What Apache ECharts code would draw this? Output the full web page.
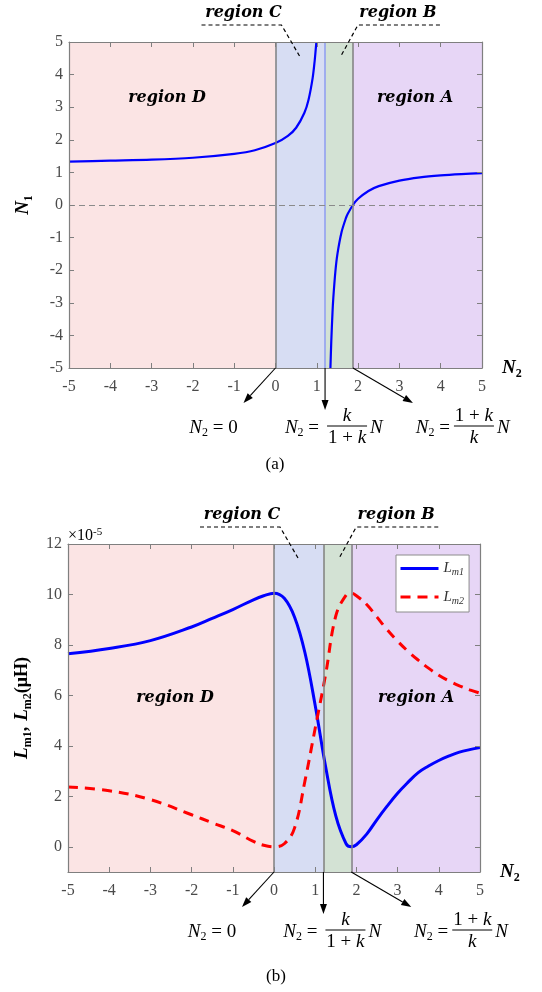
<!DOCTYPE html>
<html>
<head>
<meta charset="utf-8">
<script src="https://cdn.jsdelivr.net/npm/echarts@6/dist/echarts.min.js"></script>
<style>
  html, body { margin: 0; padding: 0; background: #fff; }
  #chart { width: 542px; height: 992px; }
</style>
</head>
<body>
<div id="chart"></div>
<script>
// region borders on the N2 axis: N2 = 0, k/(1+k)N, (1+k)N/k  (k = 4, N = 1.5)
const boundaries = [0, 1.2, 1.875]

// (a) N1 against N2, one branch each side of the asymptote
const n2Left = [-5, -4, -3, -2, -1, -0.5, 0, 0.3, 0.5, 0.7, 0.8, 0.9, 0.95, 0.97, 0.99]
const n1Left = [1.33, 1.36, 1.39, 1.45, 1.57, 1.68, 1.9, 2.12, 2.37, 2.83, 3.23, 3.9, 4.44, 4.72, 5.0]
const n2Right = [1.33, 1.35, 1.38, 1.4, 1.45, 1.5, 1.6, 1.7, 1.75, 1.875, 2, 2.25, 2.5, 3, 3.5, 4, 4.5, 5]
const n1Right = [-5, -4.2, -3.3, -2.85, -2.04, -1.5, -0.83, -0.42, -0.27, 0, 0.19, 0.43, 0.58, 0.75, 0.85, 0.91, 0.95, 0.98]

// (b) Lm1 / Lm2 in units of 1e-5
const n2B = [-5, -4, -3, -2, -1.5, -1, -0.5, -0.25, 0, 0.25, 0.5, 0.75, 1.0, 1.25, 1.5, 1.75, 1.875, 2.0, 2.25, 2.5, 2.75, 3.0, 3.25, 3.5, 3.75, 4, 4.25, 4.5, 4.75, 5]
const lm1 = [7.65, 7.86, 8.17, 8.71, 9.05, 9.4, 9.79, 9.95, 10.05, 9.85, 9.1, 7.7, 5.6, 3.2, 1.22, 0.12, 0, 0.08, 0.5, 1.08, 1.62, 2.12, 2.55, 2.94, 3.2, 3.42, 3.6, 3.75, 3.85, 3.93]
const lm2 = [2.37, 2.22, 1.87, 1.27, 0.95, 0.64, 0.21, 0.06, 0, 0.12, 0.75, 2.6, 4.7, 6.8, 9.15, 9.97, 10.05, 9.95, 9.6, 9.1, 8.6, 8.15, 7.75, 7.4, 7.08, 6.8, 6.57, 6.38, 6.22, 6.09]
const yTicksB = [0, 2, 4, 6, 8, 10, 12]

const regionColors = ['#fbe4e4', '#d7ddf3', '#d3e2d4', '#e7d6f6']
const axisColor = '#7f7f7f'
const labelColor = '#4a4a4a'
const serif = '"Liberation Serif", "Times New Roman", serif'
const dejavu = '"DejaVu Serif", serif'

const chart = echarts.init(document.getElementById('chart'))

function pairs(xs, ys) {
  return xs.map((x, i) => [x, ys[i]])
}

function regionAreas() {
  const edges = [-5].concat(boundaries, [5])
  const areas = []
  for (let i = 0; i < 4; i++) {
    areas.push([{ xAxis: edges[i], itemStyle: { color: regionColors[i] } }, { xAxis: edges[i + 1] }])
  }
  return areas
}

const nameRich = {
  n: { fontFamily: serif, fontStyle: 'italic', fontWeight: 'bold', fontSize: 19, lineHeight: 24, color: '#000' },
  s: { fontFamily: serif, fontWeight: 'bold', fontSize: 12, lineHeight: 12, verticalAlign: 'bottom', color: '#000' },
  c: { fontFamily: serif, fontWeight: 'bold', fontSize: 18, lineHeight: 24, color: '#000', padding: [0, 6, 0, 0] },
  u: { fontFamily: serif, fontWeight: 'bold', fontSize: 18, lineHeight: 24, color: '#000' }
}

function xAxisFor(grid, top) {
  return {
    type: 'value', gridIndex: grid, min: -5, max: 5, interval: 1,
    position: top ? 'top' : 'bottom', z: 10,
    name: top ? '' : '{n|N}{s|2}',
    nameLocation: 'end', nameGap: 20,
    nameTextStyle: { rich: nameRich, verticalAlign: 'middle' },
    axisLine: { show: true, onZero: false, lineStyle: { color: axisColor, width: 1.2 } },
    axisTick: { show: true, inside: true, length: 5, lineStyle: { color: axisColor } },
    axisLabel: { show: !top, margin: 11, color: labelColor, fontFamily: serif, fontSize: 16 },
    splitLine: { show: false }
  }
}

function yAxisFor(grid, right) {
  const base = {
    type: 'value', gridIndex: grid, position: right ? 'right' : 'left', z: 10,
    axisLine: { show: true, onZero: false, lineStyle: { color: axisColor, width: 1.2 } },
    axisTick: { show: true, inside: true, length: 5, lineStyle: { color: axisColor } },
    axisLabel: { show: !right, margin: 6, color: labelColor, fontFamily: serif, fontSize: 16 },
    splitLine: { show: false },
    nameLocation: 'middle', nameRotate: 90,
    nameTextStyle: { rich: nameRich }
  }
  if (grid === 0) {
    base.min = -5
    base.max = 5
    base.interval = 1
    if (!right) {
      base.name = '{n|N}{s|1}'
      base.nameGap = 34
    }
  } else {
    base.min = -1
    base.max = 12
    base.axisLabel.customValues = yTicksB
    base.axisTick.customValues = yTicksB
    if (!right) {
      base.name = '{n|L}{s|m1}{c|,}{n|L}{s|m2}{u|(μH)}'
      base.nameGap = 34
    }
  }
  return base
}

function backgroundSeries(grid, midColor) {
  return {
    type: 'line', xAxisIndex: grid, yAxisIndex: grid, data: [], z: 1, silent: true,
    markArea: { silent: true, data: regionAreas() },
    markLine: {
      silent: true, symbol: ['none', 'none'], label: { show: false },
      lineStyle: { color: axisColor, width: 1.5, type: 'solid' },
      emphasis: { disabled: true },
      data: [
        { xAxis: boundaries[0] },
        { xAxis: boundaries[1], lineStyle: { color: midColor, width: 1.5, type: 'solid' } },
        { xAxis: boundaries[2] }
      ].concat(grid === 0 ? [{ yAxis: 0, lineStyle: { color: '#8a8a8a', width: 1.2, type: [6, 4] } }] : [])
    }
  }
}

const option = {
  animation: false,
  backgroundColor: '#fff',
  grid: [
    { left: 69, top: 42, width: 413, height: 326, outerBoundsMode: 'none' },
    { left: 68, top: 544, width: 412, height: 328, outerBoundsMode: 'none' }
  ],
  xAxis: [xAxisFor(0, false), xAxisFor(1, false), xAxisFor(0, true), xAxisFor(1, true)],
  yAxis: [yAxisFor(0, false), yAxisFor(1, false), yAxisFor(0, true), yAxisFor(1, true)],
  legend: {
    data: ['Lm1', 'Lm2'],
    orient: 'vertical', left: 396, top: 555,
    itemWidth: 38, itemHeight: 14, itemGap: 12,
    padding: [6, 5, 6, 3],
    backgroundColor: '#fff', borderColor: '#8c8c8c', borderWidth: 1, borderRadius: 0,
    lineStyle: { width: 3 },
    itemStyle: { opacity: 0 },
    formatter: name => name === 'Lm1' ? '{l|L}{s|m1}' : '{l|L}{s|m2}',
    textStyle: {
      rich: {
        l: { fontFamily: serif, fontStyle: 'italic', fontSize: 15, lineHeight: 18, color: '#333' },
        s: { fontFamily: serif, fontStyle: 'italic', fontSize: 10, lineHeight: 10, verticalAlign: 'bottom', color: '#333' }
      }
    }
  },
  series: [
    backgroundSeries(0, '#8c9bf0'),
    backgroundSeries(1, axisColor),
    {
      name: 'N1 left', type: 'line', xAxisIndex: 0, yAxisIndex: 0, z: 3,
      data: pairs(n2Left, n1Left), showSymbol: false, smooth: 0.3,
      lineStyle: { color: '#0000ff', width: 2.2 }
    },
    {
      name: 'N1 right', type: 'line', xAxisIndex: 0, yAxisIndex: 0, z: 3,
      data: pairs(n2Right, n1Right), showSymbol: false, smooth: 0.3,
      lineStyle: { color: '#0000ff', width: 2.2 }
    },
    {
      name: 'Lm1', type: 'line', xAxisIndex: 1, yAxisIndex: 1, z: 3,
      data: pairs(n2B, lm1), showSymbol: false, symbol: 'none', smooth: 0.4,
      color: '#0000ff', lineStyle: { color: '#0000ff', width: 3 }
    },
    {
      name: 'Lm2', type: 'line', xAxisIndex: 1, yAxisIndex: 1, z: 4,
      data: pairs(n2B, lm2), showSymbol: false, symbol: 'none', smooth: 0.4,
      color: '#ff0000', lineStyle: { color: '#ff0000', width: 3, type: [10, 7] }
    }
  ]
}

chart.setOption(option)

// ---- annotations (arrows, formulas, region captions) ----
const mathRich = {
  n: { fontFamily: serif, fontStyle: 'italic', fontSize: 19, lineHeight: 22, color: '#000' },
  s: { fontFamily: serif, fontSize: 12, lineHeight: 12, verticalAlign: 'bottom', color: '#000' },
  t: { fontFamily: serif, fontSize: 19, lineHeight: 22, color: '#000' },
  k: { fontFamily: serif, fontStyle: 'italic', fontSize: 19, lineHeight: 22, color: '#000' }
}
const regionFont = { fontFamily: dejavu, fontStyle: 'italic', fontWeight: 'bold', fontSize: 16, fill: '#000' }

function arrow(x1, y1, x2, y2) {
  const a = Math.atan2(y2 - y1, x2 - x1)
  const len = 10, half = 3.5
  const bx = x2 - len * Math.cos(a), by = y2 - len * Math.sin(a)
  return [
    { type: 'line', shape: { x1, y1, x2: bx, y2: by }, style: { stroke: '#000', lineWidth: 1.1 } },
    {
      type: 'polygon',
      shape: { points: [[x2, y2], [bx - half * Math.sin(a), by + half * Math.cos(a)], [bx + half * Math.sin(a), by - half * Math.cos(a)]] },
      style: { fill: '#000' }
    }
  ]
}

function text(x, y, str, align, extra) {
  return {
    type: 'text', x, y,
    style: Object.assign({ text: str, align: align || 'center', verticalAlign: 'middle', rich: mathRich }, extra || {})
  }
}

function callout(tx, ty, pts) {
  return [
    { type: 'text', x: tx, y: ty, style: Object.assign({ text: pts.label, align: 'center', verticalAlign: 'middle' }, regionFont) },
    { type: 'polyline', shape: { points: pts.line }, style: { stroke: '#000', lineWidth: 1.2, lineDash: [4, 3], fill: null } }
  ]
}

function annotate(grid) {
  const yMin = grid === 0 ? -5 : -1
  const yMax = grid === 0 ? 5 : 12
  const pb = chart.convertToPixel({ gridIndex: grid }, [0, yMin])[1]
  const pt = chart.convertToPixel({ gridIndex: grid }, [0, yMax])[1]
  const px = boundaries.map(b => chart.convertToPixel({ gridIndex: grid }, [b, yMin])[0])
  let els = []
  els = els.concat(arrow(px[0], pb, px[0] - 32, pb + 35))
  els = els.concat(arrow(px[1], pb, px[1], pb + 42))
  els = els.concat(arrow(px[2], pb, px[2] + 60, pb + 35))
  // N2 = 0
  els.push(text(px[0] - 62, pb + 60, '{n|N}{s|2}{t| = 0}'))
  // N2 = k/(1+k) N
  els.push(text(px[1] - 6, pb + 60, '{n|N}{s|2}{t| =}', 'right'))
  els.push(text(px[1] + 22, pb + 48, '{k|k}'))
  els.push({ type: 'line', shape: { x1: px[1] + 2, y1: pb + 58, x2: px[1] + 42, y2: pb + 58 }, style: { stroke: '#000', lineWidth: 1 } })
  els.push(text(px[1] + 22, pb + 70, '{t|1 + }{k|k}'))
  els.push(text(px[1] + 45, pb + 60, '{n|N}', 'left'))
  // N2 = (1+k)/k N
  els.push(text(px[2] + 97, pb + 60, '{n|N}{s|2}{t| =}', 'right'))
  els.push(text(px[2] + 121, pb + 48, '{t|1 + }{k|k}'))
  els.push({ type: 'line', shape: { x1: px[2] + 101, y1: pb + 58, x2: px[2] + 141, y2: pb + 58 }, style: { stroke: '#000', lineWidth: 1 } })
  els.push(text(px[2] + 121, pb + 70, '{k|k}'))
  els.push(text(px[2] + 144, pb + 60, '{n|N}', 'left'))
  // region C / region B callouts above the plot
  els = els.concat(callout(px[0] - 32, pt - 29, { label: 'region C', line: [[px[0] - 74, pt - 17], [px[0] + 6, pt - 17], [px[0] + 24, pt + 14]] }))
  els = els.concat(callout(px[2] + 45, pt - 29, { label: 'region B', line: [[px[2] + 87, pt - 17], [px[2] + 5, pt - 17], [px[2] - 12, pt + 14]] }))
  return els
}

let graphics = annotate(0).concat(annotate(1))
graphics.push({ type: 'text', x: 167, y: 98, style: Object.assign({ text: 'region D', align: 'center', verticalAlign: 'middle' }, regionFont) })
graphics.push({ type: 'text', x: 415, y: 98, style: Object.assign({ text: 'region A', align: 'center', verticalAlign: 'middle' }, regionFont) })
graphics.push({ type: 'text', x: 175, y: 698, style: Object.assign({ text: 'region D', align: 'center', verticalAlign: 'middle' }, regionFont) })
graphics.push({ type: 'text', x: 416, y: 698, style: Object.assign({ text: 'region A', align: 'center', verticalAlign: 'middle' }, regionFont) })
graphics.push({
  type: 'text', x: 68, y: 536,
  style: {
    text: '{a|×10}{b|-5}', align: 'left', verticalAlign: 'middle',
    rich: {
      a: { fontFamily: serif, fontSize: 16, lineHeight: 18, color: labelColor },
      b: { fontFamily: serif, fontSize: 11, lineHeight: 11, verticalAlign: 'top', color: labelColor }
    }
  }
})
graphics.push({ type: 'text', x: 275, y: 465, style: { text: '(a)', align: 'center', verticalAlign: 'middle', fontFamily: serif, fontSize: 17, fill: '#000' } })
graphics.push({ type: 'text', x: 276, y: 977, style: { text: '(b)', align: 'center', verticalAlign: 'middle', fontFamily: serif, fontSize: 17, fill: '#000' } })

chart.setOption({ graphic: graphics.map(g => Object.assign({ z: 100, silent: true }, g)) })
</script>
</body>
</html>
